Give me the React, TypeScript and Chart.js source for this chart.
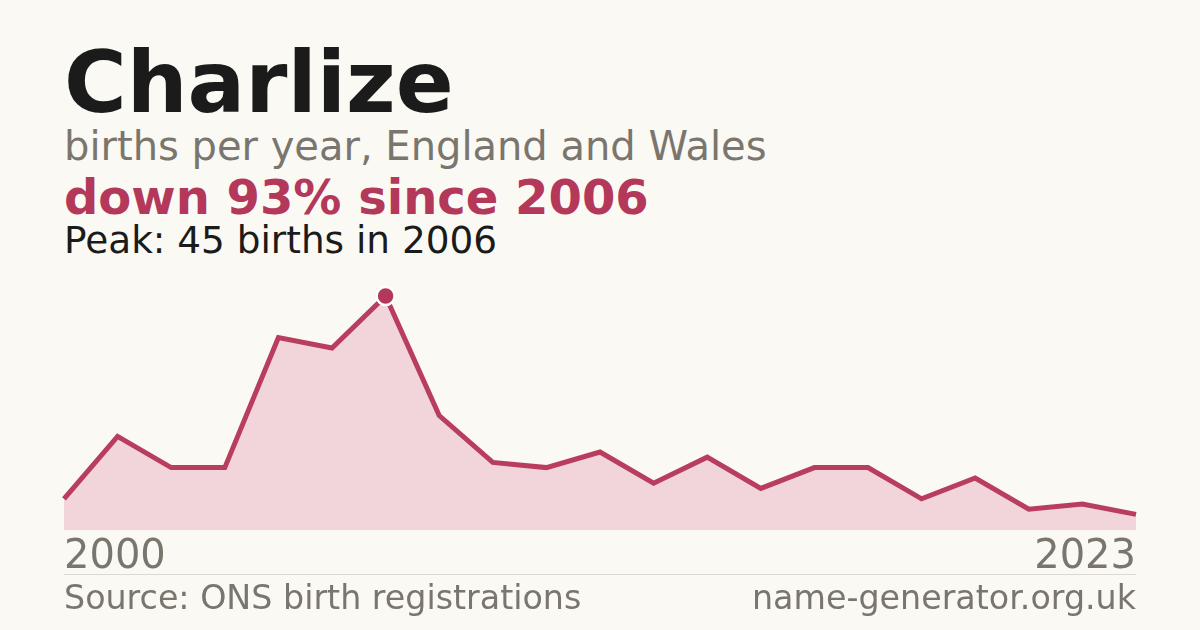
import { useEffect, useRef } from "react";
import { Chart, registerables } from "chart.js";

Chart.register(...registerables);

// years with published counts (ONS only lists names given 3+ times)
const years = [
  "2000", "2001", "2002", "2003", "2004", "2005", "2006", "2007", "2008", "2009",
  "2010", "2011", "2012", "2013", "2014", "2015", "2016", "2017", "2018", "2019",
  "2023",
];
const births = [6, 18, 12, 12, 37, 35, 45, 22, 13, 12, 15, 9, 14, 8, 12, 12, 6, 10, 4, 5, 3];
const peakIndex = 6;

const FONT = "'DejaVu Sans', sans-serif";
const RED = "#b3385a";
const GREY = "#7a766e";
const INK = "#1b1b1b";
const BG = "#faf9f4";

export default function App() {
  const canvasRef = useRef<HTMLCanvasElement>(null);

  useEffect(() => {
    document.body.style.margin = "0";
    if (!canvasRef.current) return;

    const chart = new Chart(canvasRef.current, {
      type: "line",
      data: {
        labels: years,
        datasets: [
          {
            data: births,
            borderColor: "#b83d5e",
            borderWidth: 5,
            backgroundColor: "#f2d5da",
            fill: "origin",
            tension: 0,
            pointRadius: births.map((_, i) => (i === peakIndex ? 9 : 0)),
            pointBackgroundColor: RED,
            pointBorderColor: "#ffffff",
            pointBorderWidth: 2.5,
            clip: false,
          },
        ],
      },
      options: {
        animation: false,
        responsive: false,
        maintainAspectRatio: false,
        layout: { padding: { top: 10, left: 0, right: 0, bottom: 0 } },
        plugins: {
          legend: { display: false },
          tooltip: { enabled: false },
        },
        scales: {
          x: {
            offset: false,
            grid: { display: false, drawTicks: false },
            border: { display: false },
            ticks: {
              autoSkip: false,
              maxRotation: 0,
              align: "inner",
              padding: 4,
              color: GREY,
              font: { family: FONT, size: 40 },
              callback: (_v, i) => (i === 0 || i === years.length - 1 ? years[i] : ""),
            },
          },
          y: {
            display: false,
            min: 0,
            max: 50,
          },
        },
      },
    });

    return () => chart.destroy();
  }, []);

  const text = (top: number, size: number, color: string, bold = false) => ({
    position: "absolute" as const,
    left: 64,
    top,
    fontSize: size,
    lineHeight: 1,
    color,
    fontWeight: bold ? 700 : 400,
    whiteSpace: "nowrap" as const,
  });

  return (
    <div
      style={{
        position: "relative",
        width: 1200,
        height: 630,
        background: BG,
        fontFamily: FONT,
        overflow: "hidden",
      }}
    >
      <div style={text(40, 85.5, INK, true)}>Charlize</div>
      <div style={text(126, 40, GREY)}>births per year, England and Wales</div>
      <div style={text(173, 48, RED, true)}>down 93% since 2006</div>
      <div style={text(222, 37.4, INK)}>Peak: 45 births in 2006</div>

      <div style={{ position: "absolute", left: 60, top: 260, width: 1080, height: 326 }}>
        <canvas ref={canvasRef} width={1080} height={326} style={{ width: 1080, height: 326 }} />
      </div>

      <div
        style={{
          position: "absolute",
          left: 64,
          top: 574,
          width: 1072,
          height: 1,
          background: "#dcd9d2",
        }}
      />
      <div style={text(581, 33.3, GREY)}>Source: ONS birth registrations</div>
      <div style={{ ...text(581, 33.3, GREY), left: "auto", right: 64 }}>name-generator.org.uk</div>
    </div>
  );
}
